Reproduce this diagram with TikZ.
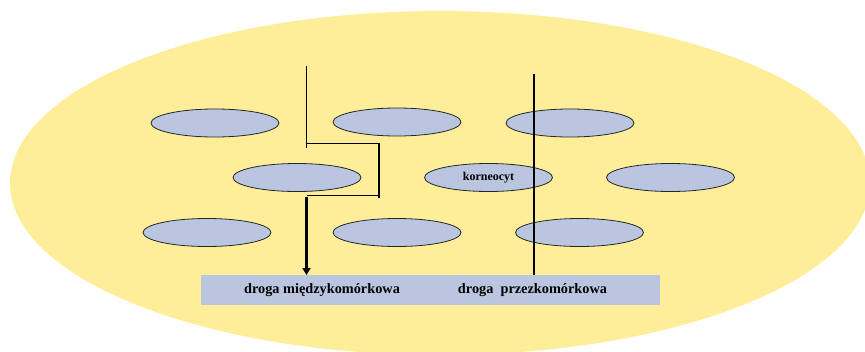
\documentclass[tikz,border=0pt]{standalone}
\usepackage{fontspec}
\setmainfont{Liberation Serif}
\usetikzlibrary{shapes.geometric,arrows.meta}
\definecolor{skin}{HTML}{FEEE9A}
\definecolor{cellblue}{HTML}{BAC5E0}
\tikzset{
  cell/.style={ellipse, draw=black!85, line width=0.8pt, fill=cellblue,
    minimum width=128pt, minimum height=28pt, inner sep=0pt,
    font=\bfseries\fontsize{12}{12}\selectfont},
  route/.style={line width=1.3pt, black},
  mainroute/.style={line width=2.4pt, black},
  throughroute/.style={line width=2pt, black},
}
\begin{document}
\begin{tikzpicture}[x=1pt,y=-1pt]
\useasboundingbox (0,0) rectangle (865,351);
\clip (0,0) rectangle (865,351);
\fill[white] (0,0) rectangle (865,351);
% stratum corneum
\fill[skin] (440,183) ellipse [x radius=430, y radius=172];

% corneocytes
\node[cell] (c1) at (215,123) {};
\node[cell] (c2) at (397,122) {};
\node[cell] (c3) at (570,123) {};
\node[cell] (c4) at (297,177.5) {};
\node[cell] (c5) at (488.5,177.5) {korneocyt};
\node[cell] (c6) at (670.5,177.5) {};
\node[cell] (c7) at (207,232.5) {};
\node[cell] (c8) at (397,232.5) {};
\node[cell] (c9) at (579.5,232.5) {};

% label band
\node[fill=cellblue, minimum width=459pt, minimum height=29.5pt, inner sep=0pt,
  anchor=north west] (band) at (201,275) {};
\node[font=\bfseries\fontsize{14.3}{14.3}\selectfont] (lab1) at (322,290)
  {droga międzykomórkowa};
\node[font=\bfseries\fontsize{14.3}{14.3}\selectfont] (lab2) at (532.5,290)
  {droga\ \ przezkomórkowa};

% intercellular route
\coordinate (p0) at (306.5,66);
\coordinate (p1) at (306.5,143.5);
\coordinate (p2) at (379,143.5);
\coordinate (p3) at (379,195.7);
\coordinate (p4) at (306.5,195.7);
\draw[route] (p0) -- ([yshift=-4pt]p1);
\draw[route] (p1) -- (p2) -- ([yshift=-2pt]p3);
\draw[route] (p3) -- (p4);
\draw[mainroute, -{Triangle[width=8pt,length=7pt]}] ([yshift=-1pt]p4) -- (p4 |- band.north);

% transcellular route
\coordinate (t0) at (534,74);
\draw[throughroute] (t0) -- (t0 |- band.north);
\end{tikzpicture}
\end{document}
